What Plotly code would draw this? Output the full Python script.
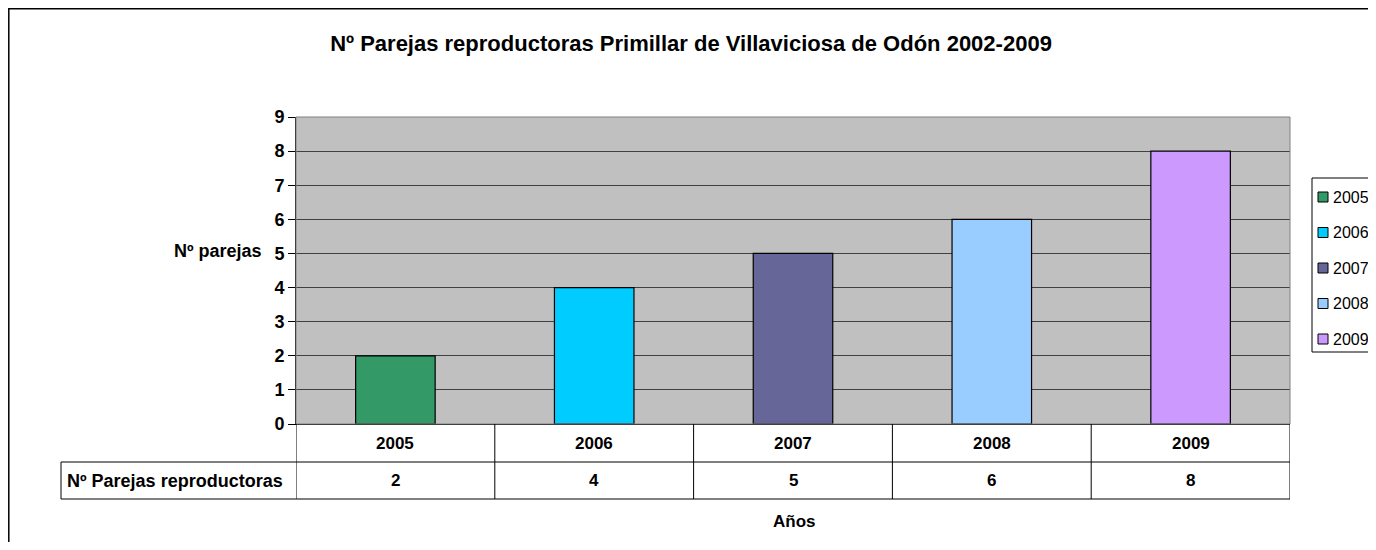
import plotly.graph_objects as go

years = ["2005", "2006", "2007", "2008", "2009"]
pairs = [2, 4, 5, 6, 8]
table_values = ["2", "4", "5", "6", "8"]
colors = ["#339966", "#00CCFF", "#666699", "#99CCFF", "#CC99FF"]
y_ticks = [0, 1, 2, 3, 4, 5, 6, 7, 8, 9]

title_text = "Nº Parejas reproductoras Primillar de Villaviciosa de Odón 2002-2009"
y_title = "Nº parejas"
x_title = "Años"
row_label = "Nº Parejas reproductoras"

OFF = 8  # page body margin
W, H = 1376 - OFF, 550 - 2 * OFF
L, R, T, B = 296, 1290, 117, 424  # target pixel positions in the screenshot
pw, ph = R - L, B - T


def px(x):
    return (x - L) / pw


def py(y):
    return (B - y) / ph


FONT = "Liberation Sans, Arial, sans-serif"

fig = go.Figure()
for yr, v, c in zip(years, pairs, colors):
    fig.add_trace(go.Bar(x=[yr], y=[v], name=yr, marker=dict(color=c, line=dict(color="#000000", width=1.2)),
                         showlegend=False, hoverinfo="x+y"))

shapes = []
annotations = []

# outer chart border
shapes.append(dict(type="rect", xref="paper", yref="paper", x0=px(8.8), x1=px(1400), y0=py(600), y1=py(8.8),
                   line=dict(color="#000000", width=1.5), fillcolor="rgba(0,0,0,0)", layer="below"))
# plot-area border (gray)
shapes.append(dict(type="rect", xref="paper", yref="paper", x0=0, x1=1, y0=0, y1=1,
                   line=dict(color="#808080", width=1), fillcolor="rgba(0,0,0,0)", layer="above"))

tl = dict(color="#000000", width=1)
r1, r2 = py(462), py(499)
shapes.append(dict(type="line", xref="paper", yref="paper", x0=px(61), x1=1, y0=r1, y1=r1, line=tl))
shapes.append(dict(type="line", xref="paper", yref="paper", x0=px(61), x1=1, y0=r2, y1=r2, line=tl))
shapes.append(dict(type="line", xref="paper", yref="paper", x0=px(61), x1=px(61), y0=r1, y1=r2, line=tl))
for i in range(len(years) + 1):
    xv = i - 0.5
    shapes.append(dict(type="line", xref="x", yref="paper", x0=xv, x1=xv, y0=0, y1=r2, line=tl))

for i, (yr, tv) in enumerate(zip(years, table_values)):
    annotations.append(dict(x=i, y=(0 + r1) / 2, xref="x", yref="paper", text="<b>" + yr + "</b>", showarrow=False,
                            font=dict(family=FONT, size=17, color="#000000"), xanchor="center", yanchor="middle"))
    annotations.append(dict(x=i, y=(r1 + r2) / 2, xref="x", yref="paper", text="<b>" + tv + "</b>", showarrow=False,
                            font=dict(family=FONT, size=17, color="#000000"), xanchor="center", yanchor="middle"))
annotations.append(dict(x=px(65), y=(r1 + r2) / 2, xref="paper", yref="paper", text="<b>" + row_label + "</b>",
                        showarrow=False, font=dict(family=FONT, size=18, color="#000000"),
                        xanchor="left", yanchor="middle"))
annotations.append(dict(x=px(794), y=py(521), xref="paper", yref="paper", text="<b>" + x_title + "</b>",
                        showarrow=False, font=dict(family=FONT, size=17, color="#000000"),
                        xanchor="center", yanchor="middle"))
annotations.append(dict(x=px(264), y=py(251), xref="paper", yref="paper", text="<b>" + y_title + "</b>",
                        showarrow=False, font=dict(family=FONT, size=18, color="#000000"),
                        xanchor="right", yanchor="middle"))

# legend
lg_left, lg_top = 1312, 178
shapes.append(dict(type="rect", xref="paper", yref="paper", x0=px(lg_left), x1=px(1400), y0=py(352), y1=py(lg_top),
                   line=dict(color="#000000", width=1), fillcolor="#FFFFFF"))
for k, (yr, c) in enumerate(zip(years, colors)):
    cy = 197 + k * 35.5
    shapes.append(dict(type="rect", xref="paper", yref="paper", x0=px(1318), x1=px(1328),
                       y0=py(cy + 5), y1=py(cy - 5), line=dict(color="#000000", width=1), fillcolor=c))
    annotations.append(dict(x=px(1331), y=py(cy), xref="paper", yref="paper", text=yr, showarrow=False,
                            font=dict(family=FONT, size=16, color="#000000"), xanchor="left", yanchor="middle"))

fig.update_layout(
    width=W, height=H,
    margin=dict(l=L - OFF, r=(1376 - R), t=T - OFF, b=(H + OFF - B), autoexpand=False),
    paper_bgcolor="#FFFFFF", plot_bgcolor="#C0C0C0",
    barmode="overlay", bargap=0.6,
    title=dict(text="<b>" + title_text + "</b>", x=px(691), xref="paper", xanchor="center",
               y=1 - (43 - OFF) / H, yanchor="middle", font=dict(family=FONT, size=22, color="#000000")),
    shapes=shapes, annotations=annotations,
    xaxis=dict(type="category", range=[-0.5, len(years) - 0.5], showticklabels=False, ticks="",
               showgrid=False, showline=True, linecolor="#000000", linewidth=1, zeroline=False, fixedrange=True),
    yaxis=dict(range=[0, 9], tickvals=y_ticks, ticktext=["<b>%d</b>" % t for t in y_ticks],
               ticks="outside", ticklen=7, tickcolor="#000000", tickwidth=1,
               tickfont=dict(family=FONT, size=18, color="#000000"),
               showgrid=True, gridcolor="#404040", gridwidth=1, showline=True, linecolor="#000000",
               linewidth=1, zeroline=False, fixedrange=True),
    showlegend=False,
)

fig.write_html("out.html")
